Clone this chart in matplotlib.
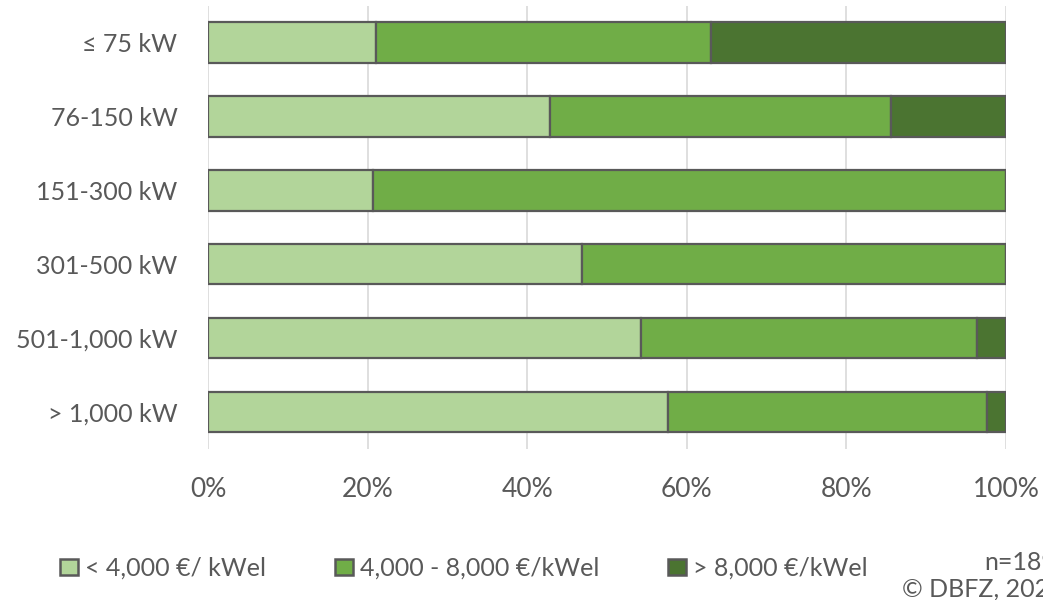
import numpy as np
import matplotlib
matplotlib.use("Agg")
from matplotlib import pyplot as plt
from matplotlib.patches import Patch

plt.rcParams['font.family'] = ['Lato', 'DejaVu Sans']

categories = ["≤ 75 kW", "76-150 kW", "151-300 kW", "301-500 kW", "501-1,000 kW", "> 1,000 kW"]
series_names = ["< 4,000 €/ kWel", "4,000 - 8,000 €/kWel", "> 8,000 €/kWel"]
low = [21.0, 42.9, 20.7, 46.9, 54.3, 57.6]
mid = [42.0, 42.7, 79.3, 53.1, 42.1, 40.0]
high = [37.0, 14.4, 0.0, 0.0, 3.6, 2.4]
colors = ["#B2D59A", "#70AD47", "#4B7431"]
legend_x = [0.0575, 0.321, 0.640]

fig = plt.figure(figsize=(10.43, 6), dpi=100)
ax = fig.add_axes([0.1994, 0.252, 0.7651, 0.7388])

y = np.arange(len(categories))
left = np.zeros(len(categories))
for vals, c in zip([low, mid, high], colors):
    vals = np.array(vals)
    ax.barh(y, vals, left=left, height=0.55, color=c, edgecolor="#595959",
            linewidth=1.6, zorder=3)
    left += vals

ax.set_ylim(len(categories) - 0.5, -0.5)
ax.set_xlim(0, 100)
ax.set_yticks(y)
ax.set_yticklabels(categories)
ax.set_xticks(np.arange(0, 101, 20))
ax.set_xticklabels([f"{v}%" for v in range(0, 101, 20)])
ax.tick_params(axis="both", length=0, labelcolor="#595959")
ax.tick_params(axis="x", pad=20, labelsize=19)
ax.tick_params(axis="y", pad=22, labelsize=18)
ax.grid(axis="x", color="#D9D9D9", linewidth=1.2, zorder=0)
for s in ax.spines.values():
    s.set_visible(False)

for name, c, lx in zip(series_names, colors, legend_x):
    fig.legend(handles=[Patch(facecolor=c, edgecolor="#595959", linewidth=1.8)],
               labels=[name], loc="center left", bbox_to_anchor=(lx, 0.053),
               frameon=False, fontsize=18, labelcolor="#595959",
               handlelength=0.72, handleheight=0.66, handletextpad=0.28,
               borderpad=0, borderaxespad=0)

fig.text(0.944, 0.063, "n=189", ha="left", va="center", fontsize=18, color="#595959")
fig.text(0.865, 0.018, "© DBFZ, 2020", ha="left", va="center", fontsize=18, color="#595959")

fig.savefig("out.png", dpi=100)
